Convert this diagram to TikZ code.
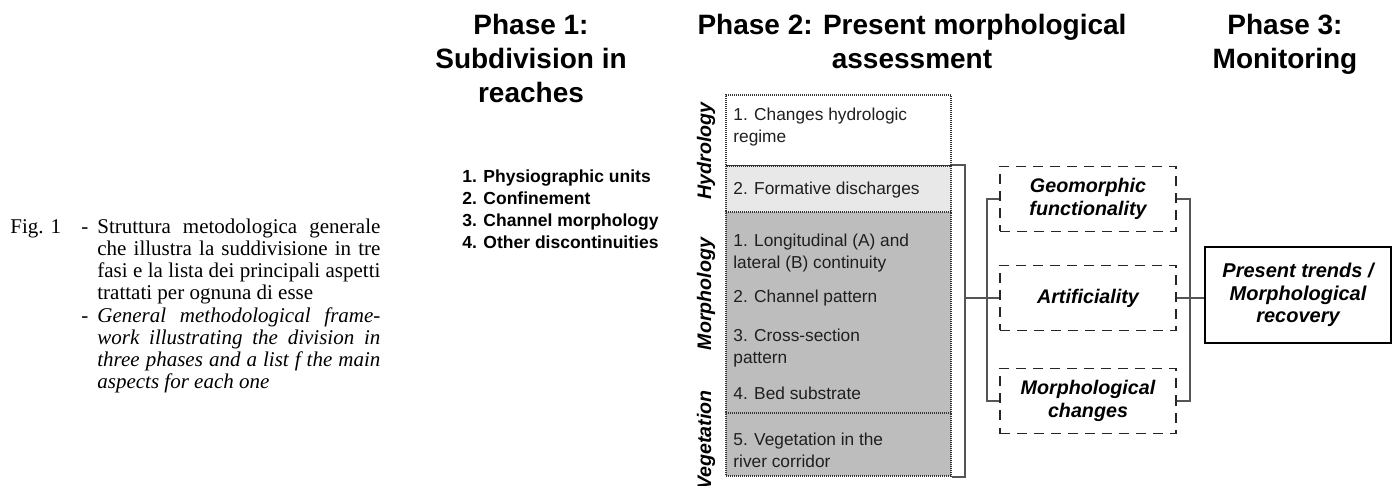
\documentclass[tikz,border=0pt]{standalone}
\usepackage{fontspec}
\setmainfont{Liberation Serif}
\newfontfamily\arialfam{Liberation Sans}
\usetikzlibrary{fit}
\definecolor{lightfill}{RGB}{232,232,232}
\definecolor{darkfill}{RGB}{189,189,189}
\definecolor{inkgray}{RGB}{85,85,85}
\begin{document}
\begin{tikzpicture}[x=0.5pt,y=-0.5pt,
  titletext/.style={font=\arialfam\bfseries\fontsize{14pt}{17pt}\selectfont, anchor=base, inner sep=0},
  listitem/.style={font=\arialfam\bfseries\fontsize{8.75pt}{11pt}\selectfont, anchor=base west, inner sep=0},
  boxtext/.style={font=\arialfam\fontsize{8.65pt}{11pt}\selectfont, anchor=base west, inner sep=0, text=black!88},
  sidelabel/.style={font=\arialfam\bfseries\itshape\fontsize{9.8pt}{11pt}\selectfont, anchor=base, rotate=90, inner sep=0},
  captext/.style={font=\fontsize{10.5pt}{11pt}\selectfont, anchor=base west, inner sep=0},
  sect/.style={draw=black!80, dash pattern=on 0.5pt off 0.5pt, line width=0.75pt, inner sep=0},
  evalbox/.style={draw=black!85, dash pattern=on 5pt off 3.5pt, line width=0.9pt,
    minimum width=88pt, minimum height=32.5pt, inner sep=0, align=center,
    font=\arialfam\bfseries\itshape\fontsize{9.85pt}{11.5pt}\selectfont},
  resultbox/.style={draw=black, line width=1.2pt, minimum width=93pt, minimum height=48pt,
    inner sep=0, align=center, font=\arialfam\bfseries\itshape\fontsize{10pt}{11.25pt}\selectfont},
  bracket/.style={draw=inkgray, line width=0.75pt}
]
\useasboundingbox (0,0) rectangle (1393,486);

% ---- caption ----
\node[captext] (capfig) at (10,234) {Fig. 1};
\node[captext] (capdashA) at (81,234) {-};
\node[captext] (capA1) at (97,234) {\makebox[141.5pt][s]{Struttura metodologica generale}};
\node[captext] (capA2) at (97,256) {\makebox[141.5pt][s]{che illustra la suddivisione in tre}};
\node[captext] (capA3) at (97,278) {\makebox[141.5pt][s]{fasi e la lista dei principali aspetti}};
\node[captext] (capA4) at (97,300) {trattati per ognuna di esse};
\node[captext] (capdashB) at (81,322) {-};
\node[captext] (capB1) at (97,322) {\itshape\makebox[141.5pt][s]{General methodological frame-}};
\node[captext] (capB2) at (97,344) {\itshape\makebox[141.5pt][s]{work illustrating the division in}};
\node[captext] (capB3) at (97,366) {\itshape\makebox[141.5pt][s]{three phases and a list f the main}};
\node[captext] (capB4) at (97,388) {\itshape aspects for each one};

% ---- phase titles ----
\node[titletext] (p1a) at (531,35) {Phase 1:};
\node[titletext] (p1b) at (531,69) {Subdivision in};
\node[titletext] (p1c) at (531,103) {reaches};
\node[titletext] (p2a) at (912,35) {Phase 2: Present morphological};
\node[titletext] (p2b) at (912,69) {assessment};
\node[titletext] (p3a) at (1285,35) {Phase 3:};
\node[titletext] (p3b) at (1285,69) {Monitoring};

% ---- phase 1 list ----
\node[listitem] (l1) at (462,183) {1. Physiographic units};
\node[listitem] (l2) at (462,205) {2. Confinement};
\node[listitem] (l3) at (462,227) {3. Channel morphology};
\node[listitem] (l4) at (462,249) {4. Other discontinuities};

% ---- phase 2: stacked assessment column ----
\node[sect, fill=white, fit={(726,95)(951,166)}] (hyd) {};
\node[sect, fill=lightfill, fit={(726,166)(951,212)}] (form) {};
\node[sect, fill=darkfill, fit={(726,212)(951,413)}] (morph) {};
\node[sect, fill=darkfill, fit={(726,413)(951,476)}] (veg) {};

\node[sidelabel] (lhyd) at (711,151) {Hydrology};
\node[sidelabel] (lmor) at (711,294) {Morphology};
\node[sidelabel] (lveg) at (711,440) {Vegetation};

\node[boxtext] (h1a) at (733,121) {1. Changes hydrologic};
\node[boxtext] (h1b) at (733,143) {regime};
\node[boxtext] (h2) at (733,195) {2. Formative discharges};
\node[boxtext] (m1a) at (733,247) {1. Longitudinal (A) and};
\node[boxtext] (m1b) at (733,269) {lateral (B) continuity};
\node[boxtext] (m2) at (733,303) {2. Channel pattern};
\node[boxtext] (m3a) at (733,342) {3. Cross-section};
\node[boxtext] (m3b) at (733,364) {pattern};
\node[boxtext] (m4) at (733,400) {4. Bed substrate};
\node[boxtext] (v5a) at (733,445) {5. Vegetation in the};
\node[boxtext] (v5b) at (733,467) {river corridor};

% ---- evaluation boxes ----
\node[evalbox] (geo) at (1088,199) {Geomorphic\\functionality};
\node[evalbox] (art) at (1088,298) {Artificiality};
\node[evalbox] (mch) at (1088,401) {Morphological\\changes};

% ---- phase 3 box ----
\node[resultbox] (trend) at (1298,295) {Present trends /\\Morphological\\recovery};

% ---- brackets ----
\coordinate (br1) at (965,0);
\coordinate (br2) at (987,0);
\coordinate (br3) at (1190,0);
\draw[bracket] (form.north east) -- (br1 |- form.north east) -- (br1 |- veg.south east) -- (veg.south east);
\draw[bracket] (br1 |- art.west) -- (art.west);
\draw[bracket] (geo.west) -| (br2 |- mch.west) -- (mch.west);
\draw[bracket] (geo.east) -| (br3 |- mch.east) -- (mch.east);
\draw[bracket] (art.east) -- (art.east -| trend.west);
\end{tikzpicture}
\end{document}
